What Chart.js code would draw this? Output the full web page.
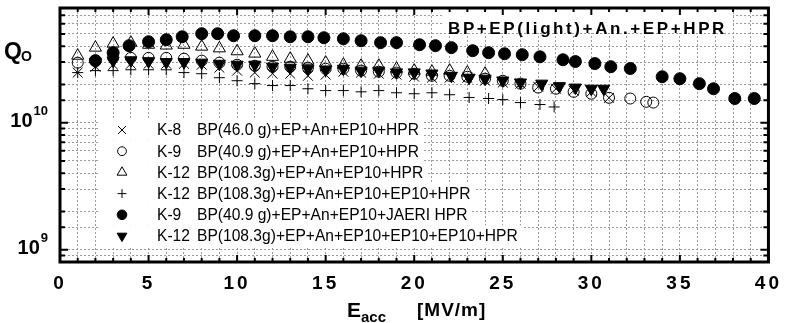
<!DOCTYPE html>
<html>
<head>
<meta charset="utf-8">
<script src="https://cdn.jsdelivr.net/npm/chart.js@4.4.1/dist/chart.umd.min.js"></script>
<style>
  html, body { margin: 0; padding: 0; background: #fff; }
</style>
</head>
<body>
<canvas id="myChart" width="789" height="323"></canvas>
<script>
// * Eacc in MV/m, Q0 in units of 1e10
const eK8 = [1,2,3,4,5,6,7,8,9,10,11,12,13,14,15,16,17,18,19,20,21,22,23,24,25,26,27,28,29,30,31];
const qK8 = [2.48,2.76,2.86,2.91,2.91,2.91,2.91,2.86,2.71,2.57,2.48,2.43,2.43,2.34,2.39,2.52,2.48,2.43,2.39,2.30,2.26,2.26,2.26,2.14,2.07,2.03,1.92,1.85,1.79,1.75,1.57];

const eK9 = [1,2,3,4,5,6,7,8,9,10,11,12,13,14,15,16,17,18,19,20,21,22,23,24,25,26,27,28,29,30,31,32.2,33.1,33.5];
const qK9 = [2.97,3.08,3.24,3.24,3.24,3.24,3.19,3.08,2.97,2.86,2.81,2.76,2.76,2.71,2.66,2.66,2.57,2.52,2.48,2.43,2.34,2.34,2.30,2.22,2.14,2.03,1.89,1.85,1.75,1.69,1.57,1.55,1.46,1.44];

const eK12a = [1,2,3,4,5,6,7,8,9,10,11,12,13,14,15,16,17,18,19,20,21,22,23,24];
const qK12a = [3.37,3.90,4.19,4.27,4.11,4.05,4.11,3.97,3.85,3.65,3.50,3.30,3.19,3.08,2.97,2.86,2.81,2.81,2.66,2.57,2.52,2.57,2.48,2.43];

const eK12b = [1,2,3,4,5,6,7,8,9,10,11,12,13,14,15,16,17,18,19,20,21,22,23.1,24.2,25,26,27.1,27.9];
const qK12b = [2.48,2.57,2.57,2.61,2.61,2.61,2.48,2.43,2.26,2.14,2.03,1.96,1.96,1.85,1.79,1.79,1.75,1.79,1.72,1.69,1.72,1.66,1.58,1.55,1.52,1.44,1.39,1.33];

const eK9J = [2,3,3.9,5,6,6.9,8,8.9,9.8,11,12,13,14,14.9,16,17,18.1,19,20.3,21.2,22.1,23.3,24.2,25.1,26.1,27.1,28.4,29.1,30.2,31.1,32.2,34,35,36.1,36.9,38.1,39.2];
const qK9J = [3.08,3.56,4.04,4.34,4.50,4.75,5.02,5.02,4.84,4.84,4.84,4.75,4.75,4.67,4.58,4.42,4.27,4.27,4.11,4.04,3.90,3.69,3.56,3.49,3.43,3.30,3.13,3.03,2.92,2.76,2.67,2.30,2.22,2.03,1.85,1.55,1.55];

const eK12c = [2,3,4,5,6,7,8,9,10,11,12,13,14,15,16,17,18,19,20,21,22.1,23.1,24,25,26,27.2,28.2,29.1,30,30.7];
const qK12c = [3.02,3.08,3.10,3.05,3.00,3.00,2.97,2.91,2.86,2.86,2.76,2.71,2.66,2.61,2.66,2.57,2.57,2.49,2.49,2.44,2.34,2.26,2.22,2.15,2.07,2.03,1.94,1.89,1.85,1.85];

const cavities = ["K-8", "K-9", "K-12", "K-12", "K-9", "K-12"];
const recipes = [
    "BP(46.0 g)+EP+An+EP10+HPR",
    "BP(40.9 g)+EP+An+EP10+HPR",
    "BP(108.3g)+EP+An+EP10+HPR",
    "BP(108.3g)+EP+An+EP10+EP10+HPR",
    "BP(40.9 g)+EP+An+EP10+JAERI HPR",
    "BP(108.3g)+EP+An+EP10+EP10+EP10+HPR",
];
const titleText = "BP+EP(light)+An.+EP+HPR";
const xTitle = ["E", "acc", "[MV/m]"];
const yTitle = ["Q", "O"];
const yLabelExps = [9, 10];

const FONT = "'Liberation Sans', Arial, Helvetica, sans-serif";

const toPoints = (xs, qs) => xs.map((x, i) => ({ x: x, y: qs[i] * 1e10 }));

const styles = [
    { pointStyle: "crossRot", radius: 7, rotation: 0, fill: "rgba(0,0,0,0)", bw: 1 },
    { pointStyle: "circle", radius: 5.5, rotation: 0, fill: "rgba(0,0,0,0)", bw: 1 },
    { pointStyle: "triangle", radius: 7, rotation: 0, fill: "rgba(0,0,0,0)", bw: 1 },
    { pointStyle: "cross", radius: 5.5, rotation: 0, fill: "rgba(0,0,0,0)", bw: 1 },
    { pointStyle: "circle", radius: 6, rotation: 0, fill: "#000", bw: 1 },
    { pointStyle: "triangle", radius: 7, rotation: 180, fill: "#000", bw: 1 },
];

const series = [
    toPoints(eK8, qK8),
    toPoints(eK9, qK9),
    toPoints(eK12a, qK12a),
    toPoints(eK12b, qK12b),
    toPoints(eK9J, qK9J),
    toPoints(eK12c, qK12c),
];

const datasets = series.map((pts, i) => ({
    label: cavities[i] + " " + recipes[i],
    data: pts,
    showLine: false,
    pointStyle: styles[i].pointStyle,
    pointRadius: styles[i].radius,
    pointRotation: styles[i].rotation,
    pointBackgroundColor: styles[i].fill,
    pointBorderColor: "#000",
    pointBorderWidth: styles[i].bw,
}));

// * Boxes, legend, frame, inward ticks and odd-shaped labels
const decor = {
    id: "decor",
    beforeDraw(chart) {
        chart.ctx.letterSpacing = "3px";
    },
    beforeDatasetsDraw(chart) {
        const ctx = chart.ctx;
        ctx.letterSpacing = "0px";
        ctx.save();
        ctx.fillStyle = "#fff";
        // * title box
        ctx.fillRect(443, 9, 290, 24);
        // * legend rows
        ctx.font = "15.6px " + FONT;
        recipes.forEach((r, i) => {
            const y = 130 + i * 21.2;
            const w = ctx.measureText(r).width;
            ctx.fillRect(100, y - 10.6, 197 + w + 4 - 100, 21.2);
        });
        ctx.restore();
    },
    afterDraw(chart) {
        const ctx = chart.ctx;
        const a = chart.chartArea;
        const xs = chart.scales.x;
        const ys = chart.scales.y;
        ctx.save();
        ctx.letterSpacing = "0px";

        // * frame
        ctx.strokeStyle = "#000";
        ctx.lineWidth = 3;
        ctx.strokeRect(a.left, a.top, a.right - a.left, a.bottom - a.top);

        // * inward ticks
        ctx.lineWidth = 2;
        ctx.beginPath();
        xs.ticks.forEach((t) => {
            const px = xs.getPixelForValue(t.value);
            const len = t.value % 5 === 0 ? 7 : 4;
            ctx.moveTo(px, a.bottom);
            ctx.lineTo(px, a.bottom - len);
            ctx.moveTo(px, a.top);
            ctx.lineTo(px, a.top + len);
        });
        ys.ticks.forEach((t) => {
            const py = ys.getPixelForValue(t.value);
            const lg = Math.log10(t.value);
            const len = Math.abs(lg - Math.round(lg)) < 1e-6 ? 8 : 5;
            ctx.moveTo(a.left, py);
            ctx.lineTo(a.left + len, py);
            ctx.moveTo(a.right, py);
            ctx.lineTo(a.right - len, py);
        });
        ctx.stroke();

        // * title
        ctx.fillStyle = "#000";
        ctx.textBaseline = "alphabetic";
        ctx.textAlign = "left";
        ctx.font = "bold 17px " + FONT;
        ctx.letterSpacing = "2.6px";
        ctx.fillText(titleText, 448, 34);
        ctx.letterSpacing = "0px";

        // * legend
        ctx.textBaseline = "middle";
        ctx.font = "15.6px " + FONT;
        styles.forEach((s, i) => {
            const y = 130 + i * 21.2;
            ctx.fillStyle = s.fill;
            ctx.strokeStyle = "#000";
            ctx.lineWidth = 1;
            Chart.helpers.drawPoint(ctx, {
                pointStyle: s.pointStyle,
                radius: s.radius * 0.8,
                rotation: s.rotation,
                borderWidth: 1,
            }, 122, y);
            ctx.fillStyle = "#000";
            ctx.fillText(cavities[i], 157, y + 1);
            ctx.fillText(recipes[i], 197, y + 1);
        });

        // * y tick labels 10^n
        ctx.textBaseline = "middle";
        ctx.textAlign = "right";
        yLabelExps.forEach((e) => {
            const py = ys.getPixelForValue(Math.pow(10, e));
            ctx.font = "bold 13px " + FONT;
            const sup = String(e);
            const sw = ctx.measureText(sup).width;
            ctx.fillText(sup, 48, py - 11);
            ctx.font = "bold 20px " + FONT;
            ctx.fillText("10", 48 - sw - 1, py - 1);
        });

        // * y title Q_O
        ctx.textAlign = "left";
        ctx.textBaseline = "alphabetic";
        ctx.font = "bold 23px " + FONT;
        ctx.fillText(yTitle[0], 4, 59);
        ctx.font = "bold 14px " + FONT;
        ctx.fillText(yTitle[1], 21, 61);

        // * x title E_acc [MV/m]
        ctx.font = "bold 21px " + FONT;
        ctx.fillText(xTitle[0], 347, 317);
        ctx.font = "bold 15px " + FONT;
        ctx.fillText(xTitle[1], 361, 322);
        ctx.font = "bold 19px " + FONT;
        ctx.letterSpacing = "1px";
        ctx.fillText(xTitle[2], 417, 316);
        ctx.restore();
    },
};

const config = {
    type: "scatter",
    data: { datasets: datasets },
    options: {
        responsive: false,
        animation: false,
        layout: { padding: { top: 7, right: 17, left: 0, bottom: 0 } },
        plugins: { legend: { display: false }, tooltip: { enabled: false } },
        scales: {
            x: {
                type: "linear",
                min: 0,
                max: 40,
                grid: { color: "#9a9a9a", lineWidth: 1, drawTicks: false },
                border: { display: false, dash: [2, 2] },
                ticks: {
                    stepSize: 1,
                    autoSkip: false,
                    maxRotation: 0,
                    padding: 10,
                    color: "#000",
                    font: { family: FONT, size: 19, weight: "bold" },
                    callback: (v) => (v % 5 === 0 ? String(v) : ""),
                },
                afterFit: (s) => { s.height = 61; },
            },
            y: {
                type: "logarithmic",
                min: 8e8,
                max: 8e10,
                grid: { color: "#9a9a9a", lineWidth: 1, drawTicks: false },
                border: { display: false, dash: [2, 2] },
                ticks: { display: false },
                afterFit: (s) => { s.width = 60; },
            },
        },
    },
    plugins: [decor],
};

const ctx = document.getElementById("myChart").getContext("2d");
const chart = new Chart(ctx, config);
</script>
</body>
</html>
